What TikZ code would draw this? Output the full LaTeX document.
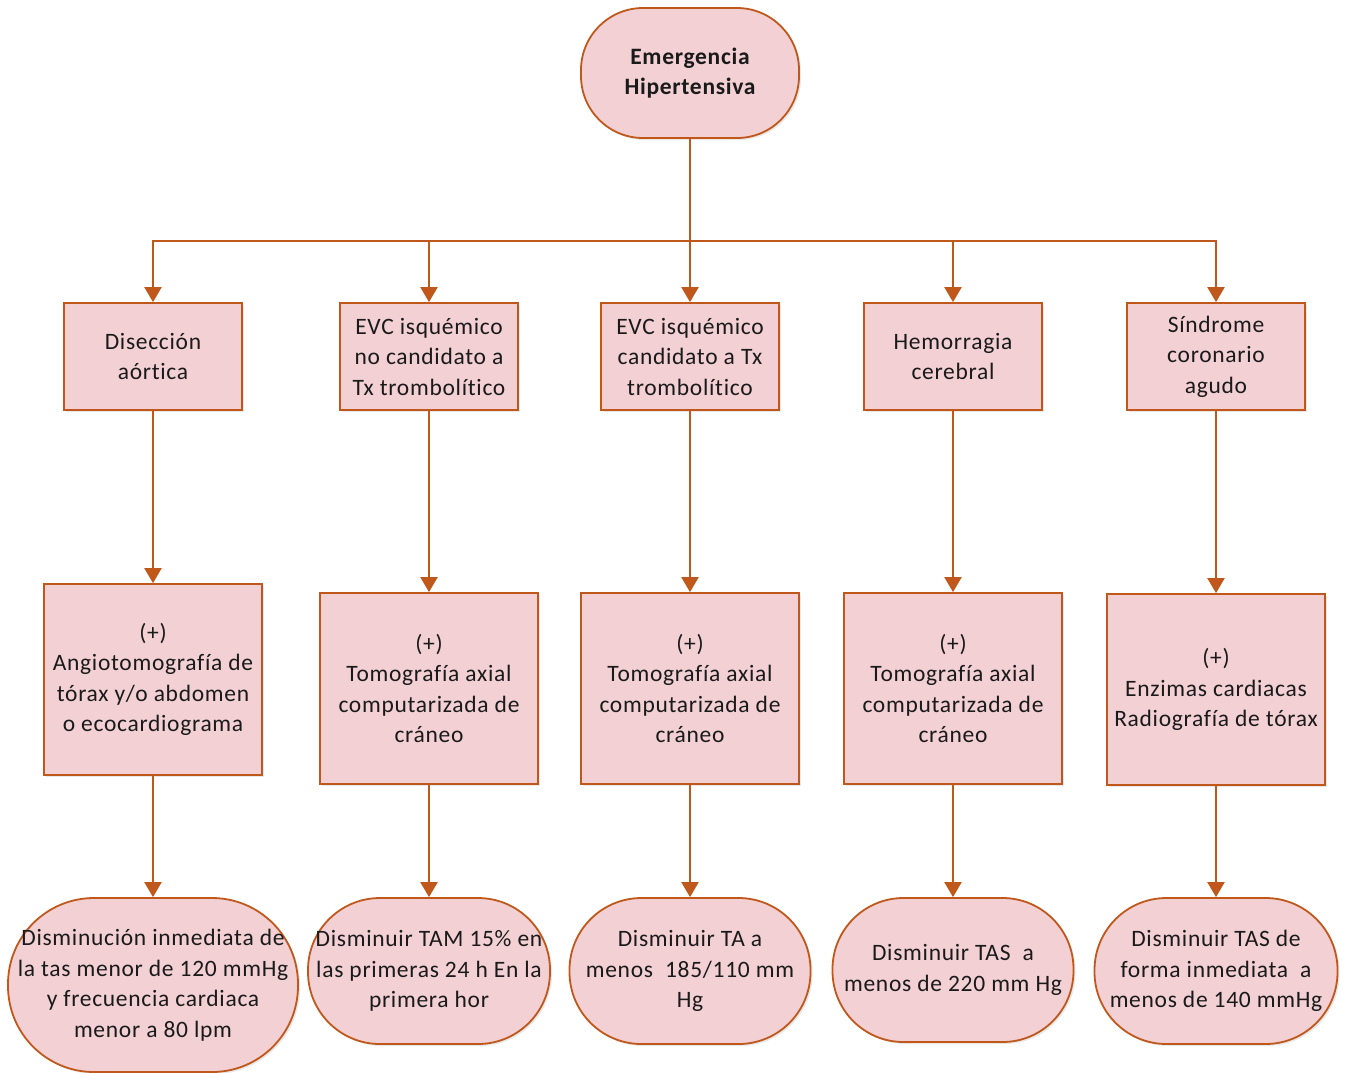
\documentclass[tikz,border=0pt]{standalone}
\usepackage{fontspec}
\setmainfont{Carlito}[LetterSpace=3, Ligatures={NoCommon}]
\usetikzlibrary{arrows.meta,shadows}
\definecolor{edgec}{HTML}{C0581B}
\definecolor{fillp}{HTML}{F2D0D4}
\definecolor{txt}{HTML}{1A1A1A}
\begin{document}
\begin{tikzpicture}[x=1pt,y=-1pt,
  base/.style={draw=edgec, line width=1.8pt, fill=fillp, text=txt, align=center,
    font=\fontsize{23.5}{30.5}\selectfont, inner sep=0pt,
    drop shadow={opacity=0.18, shadow xshift=2pt, shadow yshift=-2pt}},
  boxA/.style={base, rectangle, minimum width=178pt, minimum height=107pt},
  boxB/.style={base, rectangle, minimum width=218pt, minimum height=191pt},
  pill/.style={base, rectangle},
  conn/.style={draw=edgec, line width=2.2pt},
  arr/.style={conn, -{Triangle[width=17pt,length=15pt]}}]
\useasboundingbox (0,0) rectangle (1348,1072);

% top
\node[pill, minimum width=218pt, minimum height=130pt, rounded corners=62pt,
  font=\fontsize{23.5}{30.5}\selectfont\bfseries] (top) at (690,73) {Emergencia\\Hipertensiva};
\coordinate (bus) at (690,241);

% row 1
\node[boxA] (a1) at (153,356.5) {Disección\\aórtica};
\node[boxA] (a2) at (429,356.5) {EVC isquémico\\no candidato a\\Tx trombolítico};
\node[boxA] (a3) at (690,356.5) {EVC isquémico\\candidato a Tx\\trombolítico};
\node[boxA] (a4) at (953,356.5) {Hemorragia\\cerebral};
\node[boxA] (a5) at (1216,356.5) {Síndrome\\coronario\\agudo};

% row 2
\node[boxB] (b1) at (153,679.5) {(+)\\Angiotomografía de\\tórax y/o abdomen\\o ecocardiograma};
\node[boxB] (b2) at (429,688.5) {(+)\\Tomografía axial\\computarizada de\\cráneo};
\node[boxB] (b3) at (690,688.5) {(+)\\Tomografía axial\\computarizada de\\cráneo};
\node[boxB] (b4) at (953,688.5) {(+)\\Tomografía axial\\computarizada de\\cráneo};
\node[boxB] (b5) at (1216,689.5) {(+)\\Enzimas cardiacas\\Radiografía de tórax};

% row 3
\node[pill, minimum width=290pt, minimum height=174pt, rounded corners=86pt] (c1) at (153,985)
  {Disminución inmediata de\\la tas menor de 120 mmHg\\y frecuencia cardiaca\\menor a 80 lpm};
\node[pill, minimum width=242pt, minimum height=146pt, rounded corners=72pt] (c2) at (429,971)
  {Disminuir TAM 15\% en\\las primeras 24 h En la\\primera hor};
\node[pill, minimum width=241pt, minimum height=146pt, rounded corners=72pt] (c3) at (690,971)
  {Disminuir TA a\\menos \ 185/110 mm\\Hg};
\node[pill, minimum width=241pt, minimum height=144pt, rounded corners=71pt] (c4) at (953,970)
  {Disminuir TAS \ a\\menos de 220 mm Hg};
\node[pill, minimum width=243pt, minimum height=146pt, rounded corners=72pt] (c5) at (1216,971)
  {Disminuir TAS de\\forma inmediata \ a\\menos de 140 mmHg};

% connectors
\draw[conn] (top.south) -- (bus);
\foreach \n in {a1,a2,a3,a4,a5} \draw[arr] (bus) -| (\n.north);
\foreach \i in {1,...,5} {
  \draw[arr] (a\i.south) -- (b\i.north);
  \draw[arr] (b\i.south) -- (c\i.north);
}
\end{tikzpicture}
\end{document}
